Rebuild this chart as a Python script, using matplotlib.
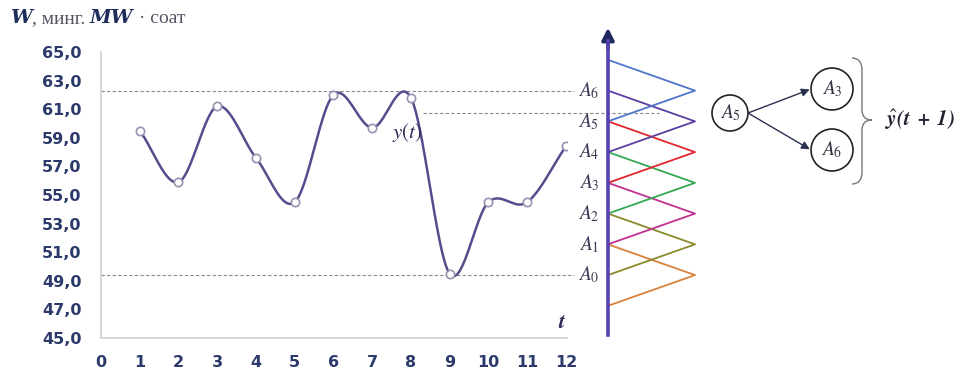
import numpy as np
import matplotlib
matplotlib.use("Agg")
import matplotlib.pyplot as plt
from matplotlib.patches import Circle, PathPatch
from matplotlib.path import Path


# ─── Data ─────────────────────────────────────────────────────────────────────

t_values = [1, 2, 3, 4, 5, 6, 7, 8, 9, 10, 11, 12]
w_values = [59.5, 55.9, 61.2, 57.6, 54.5, 62.0, 59.7, 61.8, 49.5, 54.5, 54.5, 58.4]

x_ticks = list(range(0, 13))
y_ticks = [45, 47, 49, 51, 53, 55, 57, 59, 61, 63, 65]

upper_bound = 62.3
lower_bound = 49.4
current_level = 60.7

# boundaries of fuzzy sets, bottom to top (A_-1 ... A_7)
set_levels = [47.25, 49.4, 51.55, 53.7, 55.85, 58.0, 60.15, 62.3, 64.45]
set_names = ["A_0", "A_1", "A_2", "A_3", "A_4", "A_5", "A_6"]
set_colors = ["#d9823b", "#8a8a2a", "#c2318f", "#35a853", "#e0262f", "#5b3fa0", "#4f74c9"]

NAVY = "#2b3a6b"
W, H = 970, 368

plt.rcParams["mathtext.fontset"] = "stix"


def smooth(x, y, n=40):
    """Catmull-Rom style cubic through the points."""
    x = np.asarray(x, float)
    y = np.asarray(y, float)
    m = np.gradient(y, x)
    xs, ys = [], []
    for i in range(len(x) - 1):
        s = np.linspace(0, 1, n)
        h = x[i + 1] - x[i]
        h00 = 2 * s**3 - 3 * s**2 + 1
        h10 = s**3 - 2 * s**2 + s
        h01 = -2 * s**3 + 3 * s**2
        h11 = s**3 - s**2
        ys.append(h00 * y[i] + h10 * h * m[i] + h01 * y[i + 1] + h11 * h * m[i + 1])
        xs.append(x[i] + s * h)
    return np.concatenate(xs), np.concatenate(ys)


fig = plt.figure(figsize=(W / 100, H / 100), dpi=100)
fig.patch.set_facecolor("white")

# ─── Main time-series axes ────────────────────────────────────────────────────

ax = fig.add_axes([101 / W, 30 / H, 466 / W, 286 / H])
ax.set_xlim(0, 12.03)
ax.set_ylim(45, 65)
for side in ("top", "right"):
    ax.spines[side].set_visible(False)
for side in ("left", "bottom"):
    ax.spines[side].set_color("#cfcfcf")
    ax.spines[side].set_linewidth(1.2)

ax.set_xticks(x_ticks)
ax.set_yticks(y_ticks)
ax.set_yticklabels([f"{v:.1f}".replace(".", ",") for v in y_ticks])
ax.tick_params(length=0, labelsize=11.5, labelcolor=NAVY)
ax.tick_params(axis="y", pad=14)
ax.tick_params(axis="x", pad=12)
for lab in ax.get_xticklabels() + ax.get_yticklabels():
    lab.set_fontweight("bold")

dash = dict(color="#8a8a8a", lw=0.8, ls=(0, (3, 2)), clip_on=False, zorder=1)
ax.plot([0, 12.2], [upper_bound, upper_bound], **dash)
ax.plot([0, 12.2], [lower_bound, lower_bound], **dash)
ax.plot([8.3, 14.4], [current_level, current_level], **dash)

xs, ys = smooth(t_values, w_values)
ax.plot(xs, ys, color="#5a4a8c", lw=1.8, zorder=3)
ax.plot(t_values, w_values, ls="none", marker="o", ms=6, mfc="white",
        mec="#9a90b0", mew=1.2, zorder=4)

ax.text(7.5, 59.4, "$y(t)$", fontsize=15, color="#2a2a55",
        ha="left", va="center", zorder=5)
ax.text(11.9, 46.1, r"$\mathbfit{t}$", fontsize=16, color="#2a2a55",
        ha="center", va="center")

# y-axis title, pieces chained one after another
TITLE_Y = 1 - 23 / H
t1 = fig.text(10 / W, TITLE_Y, "W", fontsize=14, family="DejaVu Serif", style="italic",
              fontweight="bold", color="#1f2d5c", va="baseline")
t2 = fig.text(0, 0, ", минг. ", fontsize=14, family="Liberation Serif",
              color="#555566", va="baseline")
t3 = fig.text(0, 0, "MW", fontsize=14, family="DejaVu Serif", style="italic",
              fontweight="bold", color="#1f2d5c", va="baseline")
t4 = fig.text(0, 0, " · соат", fontsize=14, family="Liberation Serif",
              color="#555566", va="baseline")
fig.canvas.draw()
renderer = fig.canvas.get_renderer()
prev = t1
for piece in (t2, t3, t4):
    bb = prev.get_window_extent(renderer)
    piece.set_position((bb.x1 / W, TITLE_Y))
    prev = piece

# ─── Fuzzy sets (triangles) ───────────────────────────────────────────────────

axr = fig.add_axes([608 / W, 30 / H, 87 / W, 286 / H])
axr.set_xlim(0, 1)
axr.set_ylim(45, 65)
axr.axis("off")

for k, (name, col) in enumerate(zip(set_names, set_colors)):
    axr.plot([0, 1, 0], [set_levels[k], set_levels[k + 1], set_levels[k + 2]],
             color=col, lw=1.3, clip_on=False)
    axr.text(-0.1, set_levels[k + 1], f"${name}$", fontsize=14, color="#3a3a55",
             ha="right", va="center")

axr.plot([0, 0], [45.2, 65.8], color="#5a3fb5", lw=2.6, clip_on=False, zorder=5)
axr.annotate("", xy=(0, 66.9), xytext=(0, 65.0), annotation_clip=False,
             arrowprops=dict(arrowstyle="-|>", color="#1f2a5c", lw=2.6,
                             mutation_scale=18))

# ─── Transition diagram ───────────────────────────────────────────────────────

ov = fig.add_axes([0, 0, 1, 1])
ov.set_xlim(0, W)
ov.set_ylim(H, 0)
ov.axis("off")
ov.patch.set_alpha(0)

nodes = {"A_5": (730, 113, 18), "A_3": (832, 89, 21), "A_6": (832, 150, 21)}
for name, (cx, cy, r) in nodes.items():
    ov.add_patch(Circle((cx, cy), r, fill=False, ec="#222222", lw=1.2))
    ov.text(cx, cy, f"${name}$", fontsize=14, ha="center", va="center", color="#333344")

for tgt in ("A_3", "A_6"):
    tx, ty, tr = nodes[tgt]
    sx, sy, sr = nodes["A_5"]
    ov.annotate("", xy=(tx - tr, ty), xytext=(sx + sr, sy),
                arrowprops=dict(arrowstyle="-|>", color="#2a3050", lw=1.0,
                                mutation_scale=12, shrinkA=0, shrinkB=1))

brace = Path(
    [(852, 58), (862, 58), (862, 70), (862, 110), (862, 120), (872, 120),
     (862, 120), (862, 130), (862, 172), (862, 184), (852, 184)],
    [Path.MOVETO, Path.CURVE3, Path.CURVE3, Path.LINETO, Path.CURVE3, Path.CURVE3,
     Path.CURVE3, Path.CURVE3, Path.LINETO, Path.CURVE3, Path.CURVE3],
)
ov.add_patch(PathPatch(brace, fill=False, ec="#777777", lw=1.0))
ov.text(885, 120, r"$\hat{\mathbfit{y}}\mathbfit{(t\ +\ 1)}$", fontsize=15,
        color="#222233", ha="left", va="center")

fig.savefig("out.png", dpi=100)
